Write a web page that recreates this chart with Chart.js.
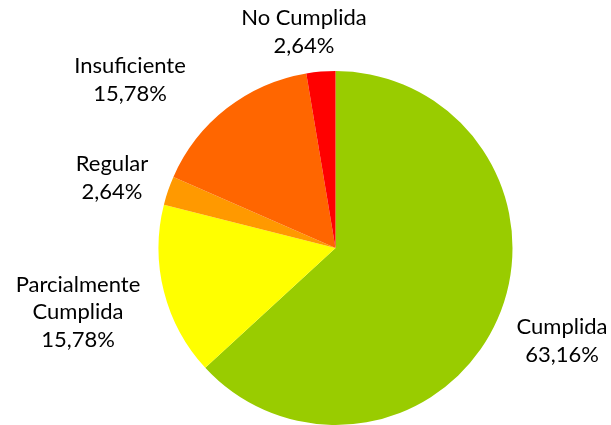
<!DOCTYPE html>
<html>
<head>
<meta charset="utf-8">
<script src="https://cdn.jsdelivr.net/npm/chart.js@4"></script>
<style>
  html, body { margin: 0; padding: 0; background: #fff; }
  #wrap { width: 611px; height: 425px; }
</style>
</head>
<body>
<div id="wrap"><canvas id="pie" width="611" height="425"></canvas></div>
<script>
// categories in drawing order (clockwise from 12 o'clock)
const categories = ['Cumplida', 'Parcialmente Cumplida', 'Regular', 'Insuficiente', 'No Cumplida'];
const values     = [63.16, 15.78, 2.64, 15.78, 2.64];
const colors     = ['#99CC00', '#FFFF00', '#FF9900', '#FF6600', '#FF0000'];

// label text lines (category wrapped + value)
const labelLines = [
  ['Cumplida'],
  ['Parcialmente', 'Cumplida'],
  ['Regular'],
  ['Insuficiente'],
  ['No Cumplida'],
];

// where each outside label block is centred (style, not data)
const labelAnchors = [
  { x: 562, y: 341 },
  { x: 78,  y: 312 },
  { x: 112, y: 178 },
  { x: 130, y: 80 },
  { x: 304, y: 32 },
];

const fmt = v => v.toFixed(2).replace('.', ',') + '%';

const outsideLabels = {
  id: 'outsideLabels',
  afterDraw(chart) {
    const ctx = chart.ctx;
    ctx.save();
    ctx.font = '22px Lato, "Open Sans", sans-serif';
    ctx.fillStyle = '#000';
    ctx.textAlign = 'center';
    ctx.textBaseline = 'middle';
    const lh = 27.5;
    values.forEach((v, i) => {
      const lines = labelLines[i].concat([fmt(v)]);
      const a = labelAnchors[i];
      const y0 = a.y - (lines.length - 1) * lh / 2;
      lines.forEach((t, j) => ctx.fillText(t, a.x, y0 + j * lh));
    });
    ctx.restore();
  }
};

new Chart(document.getElementById('pie'), {
  type: 'pie',
  data: {
    labels: categories,
    datasets: [{ data: values, backgroundColor: colors, borderWidth: 0 }],
  },
  options: {
    responsive: false, animation: false,
    layout: { padding: { left: 158, right: 98, top: 71, bottom: 0 } },
    plugins: { legend: { display: false }, tooltip: { enabled: false } },
  },
  plugins: [outsideLabels],
});
</script>
</body>
</html>
